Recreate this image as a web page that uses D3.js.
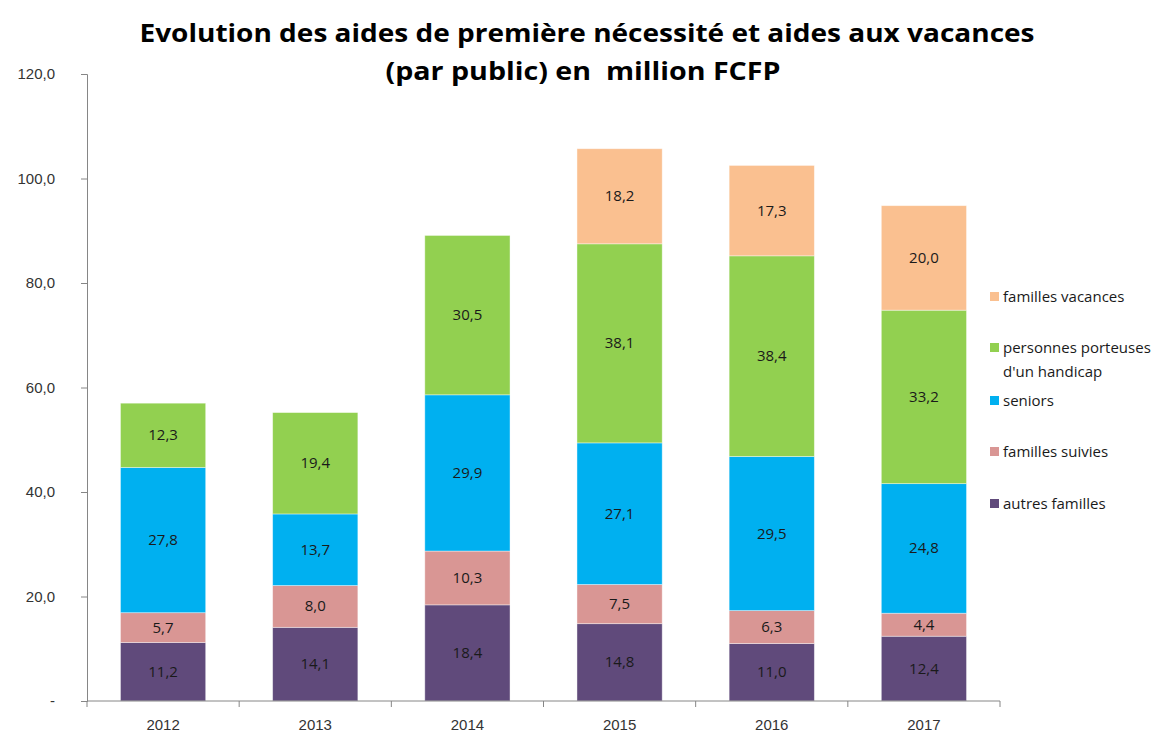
<!DOCTYPE html>
<html>
<head>
<meta charset="utf-8">
<script src="https://cdn.jsdelivr.net/npm/d3@7"></script>
<style>
  body { margin: 0; background: #fff; }
  svg { font-family: "Open Sans", "Noto Sans", sans-serif; }
  .axis path, .axis line { stroke: #868686; }
  .axis text { fill: #333333; font-size: 15px; }
</style>
</head>
<body>
<div id="chart"></div>
<script>
// Data
var years = ["2012", "2013", "2014", "2015", "2016", "2017"];
var autresFamilles = [11.2, 14.1, 18.4, 14.8, 11.0, 12.4];
var famillesSuivies = [5.7, 8.0, 10.3, 7.5, 6.3, 4.4];
var seniors = [27.8, 13.7, 29.9, 27.1, 29.5, 24.8];
var handicap = [12.3, 19.4, 30.5, 38.1, 38.4, 33.2];
var famillesVacances = [0, 0, 0, 18.2, 17.3, 20.0];
var yTicks = [0, 20, 40, 60, 80, 100, 120];

var series = [
  { key: "autres", name: ["autres familles"], values: autresFamilles, color: "#604A7B", ly: 508 },
  { key: "suivies", name: ["familles suivies"], values: famillesSuivies, color: "#D99694", ly: 456 },
  { key: "seniors", name: ["seniors"], values: seniors, color: "#00B0F0", ly: 405 },
  { key: "handicap", name: ["personnes porteuses", "d'un handicap"], values: handicap, color: "#92D050", ly: 352 },
  { key: "vacances", name: ["familles vacances"], values: famillesVacances, color: "#FAC090", ly: 301 }
];

var width = 1167, height = 733;
var svg = d3.select("#chart").append("svg")
  .attr("width", width)
  .attr("height", height);

// Title
var title = ["Evolution des aides de première nécessité et aides aux vacances",
             "(par public) en  million FCFP"];
svg.append("text")
  .attr("x", 587).attr("y", 42)
  .attr("text-anchor", "middle")
  .attr("font-weight", "bold").attr("font-size", 25)
  .attr("textLength", 895).attr("lengthAdjust", "spacingAndGlyphs")
  .text(title[0]);
svg.append("text")
  .attr("x", 583).attr("y", 80)
  .attr("text-anchor", "middle")
  .attr("font-weight", "bold").attr("font-size", 25)
  .attr("textLength", 395).attr("lengthAdjust", "spacingAndGlyphs")
  .style("white-space", "pre")
  .text(title[1]);

// Scales
var x = d3.scaleBand().domain(years).range([87, 1000]).paddingInner(0.44).paddingOuter(0.22);
var y = d3.scaleLinear().domain([0, 120]).range([701, 74]);

// Stack the data
var table = years.map(function(yr, i) {
  var row = { year: yr };
  series.forEach(function(s) { row[s.key] = s.values[i]; });
  return row;
});
var stacked = d3.stack().keys(series.map(function(s) { return s.key; }))(table);

var fmt = function(v) { return d3.format(".1f")(v).replace(".", ","); };

stacked.forEach(function(layer, li) {
  var g = svg.append("g");
  g.selectAll("rect")
    .data(layer.filter(function(d) { return d[1] - d[0] > 0; }))
    .enter().append("rect")
    .attr("x", function(d) { return x(d.data.year); })
    .attr("width", x.bandwidth())
    .attr("y", function(d) { return y(d[1]); })
    .attr("height", function(d) { return y(d[0]) - y(d[1]); })
    .attr("fill", series[li].color)
    .attr("stroke", "#ffffff").attr("stroke-opacity", 0.5).attr("stroke-width", 0.8);
  g.selectAll("text")
    .data(layer.filter(function(d) { return d[1] - d[0] > 0; }))
    .enter().append("text")
    .attr("x", function(d) { return x(d.data.year) + x.bandwidth() / 2; })
    .attr("y", function(d) { return (y(d[0]) + y(d[1])) / 2 + 5; })
    .attr("text-anchor", "middle")
    .attr("font-size", 15)
    .attr("fill", "#1a1a1a")
    .text(function(d) { return fmt(d[1] - d[0]); });
});

// Y axis
var yAxis = svg.append("g")
  .attr("class", "axis")
  .attr("transform", "translate(87,0)")
  .call(d3.axisLeft(y).tickValues(yTicks).tickSize(6).tickPadding(26)
    .tickFormat(function(d) { return d === 0 ? "-" : fmt(d); }));
yAxis.selectAll(".tick line").filter(function(d) { return d === 0; }).remove();

// X axis
var xAxis = svg.append("g")
  .attr("class", "axis")
  .attr("transform", "translate(0,701)")
  .call(d3.axisBottom(x).tickSize(0).tickPadding(18));
xAxis.select(".domain").attr("d", "M87,0H1000");
// category separators
xAxis.selectAll(".sep")
  .data(d3.range(years.length + 1))
  .enter().append("line")
  .attr("x1", function(i) { return 87 + i * x.step(); })
  .attr("x2", function(i) { return 87 + i * x.step(); })
  .attr("y1", 0).attr("y2", 6)
  .attr("stroke", "#868686");

// Legend
var legend = svg.append("g").attr("font-size", 15).attr("fill", "#1a1a1a");
series.forEach(function(s) {
  legend.append("rect")
    .attr("x", 990).attr("y", s.ly - 9)
    .attr("width", 9).attr("height", 9)
    .attr("fill", s.color);
  s.name.forEach(function(line, k) {
    legend.append("text")
      .attr("x", 1003).attr("y", s.ly + 1 + k * 24)
      .text(line);
  });
});
</script>
</body>
</html>
